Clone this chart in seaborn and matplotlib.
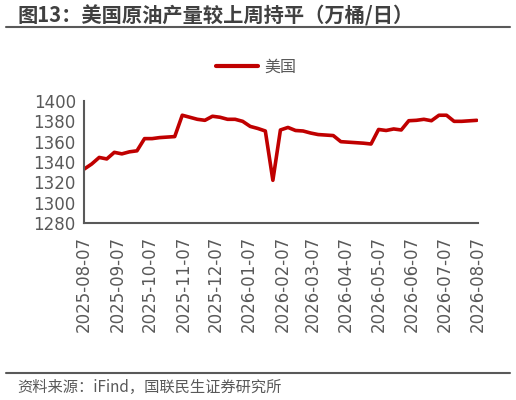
import numpy as np
import pandas as pd
import matplotlib
matplotlib.use("Agg")
import matplotlib.pyplot as plt
import matplotlib.dates as mdates
from matplotlib.lines import Line2D
import seaborn as sns

# weekly US crude oil output, 万桶/日
week_start = "2025-08-07"
us_output = [1333, 1338, 1344.5, 1343, 1349.5, 1348, 1350, 1351, 1363, 1363,
             1364, 1364.5, 1365, 1386, 1384, 1382, 1381, 1385, 1384, 1382,
             1382, 1380, 1375, 1373, 1370.5, 1322, 1371.5, 1374, 1371, 1370.5,
             1368.5, 1367, 1366.5, 1366, 1360, 1359.5, 1359, 1358.5, 1357.7, 1372,
             1371, 1372.5, 1371.5, 1380.6, 1381, 1382, 1380.6, 1386, 1386, 1380,
             1380, 1380.5, 1381]
series_name = "美国"
title_text = "图13：美国原油产量较上周持平（万桶/日）"
source_text = "资料来源：iFind，国联民生证券研究所"
y_ticks = [1280, 1300, 1320, 1340, 1360, 1380, 1400]

df = pd.DataFrame({
    "date": pd.date_range(week_start, periods=len(us_output), freq="7D"),
    "value": us_output,
})

sns.set_style("white")
plt.rcParams["font.family"] = ["Noto Sans CJK SC", "DejaVu Sans"]

red = "#C00000"
grey = "#595959"

fig = plt.figure(figsize=(5.16, 4.0), dpi=100)
ax = fig.add_axes([0.163, 0.4425, 0.763, 0.305])

sns.lineplot(data=df, x="date", y="value", color=red, lw=2.6, ax=ax, legend=False)

ax.set_ylim(1280, 1400)
ax.set_yticks(y_ticks)
ax.set_xlim(pd.Timestamp("2025-08-07"), pd.Timestamp("2026-08-07"))
ax.xaxis.set_major_locator(mdates.MonthLocator(bymonthday=7))
ax.xaxis.set_major_formatter(mdates.DateFormatter("%Y-%m-%d"))
ax.set_xlabel("")
ax.set_ylabel("")

for lab in ax.get_xticklabels() + ax.get_yticklabels():
    lab.set_family("DejaVu Sans")
ax.tick_params(axis="x", direction="out", length=5, width=1.5, color=grey,
               labelsize=12, labelcolor=grey, labelrotation=90, pad=4)
ax.tick_params(axis="y", direction="in", length=5, width=1.5, color=grey,
               labelsize=12, labelcolor=grey, pad=6)
for s in ["top", "right"]:
    ax.spines[s].set_visible(False)
for s in ["left", "bottom"]:
    ax.spines[s].set_color(grey)
    ax.spines[s].set_linewidth(1.5)

# legend
handle = Line2D([], [], color=red, lw=3)
fig.legend([handle], [series_name], loc="center", bbox_to_anchor=(0.497, 0.832),
           frameon=False, fontsize=11.5, handlelength=2.6, handletextpad=0.4,
           labelcolor=grey)

# title, rules and source
fig.text(0.033, 0.96, title_text, fontsize=14.6, fontweight="bold",
         color="#404040", va="center", ha="left")
fig.add_artist(Line2D([0.012, 0.988], [0.9325, 0.9325], color=grey, lw=1.5))
fig.add_artist(Line2D([0.012, 0.988], [0.0675, 0.0675], color=grey, lw=1.5))
fig.text(0.033, 0.032, source_text, fontsize=11, color=grey,
         va="center", ha="left")

fig.savefig("out.png", dpi=100)
